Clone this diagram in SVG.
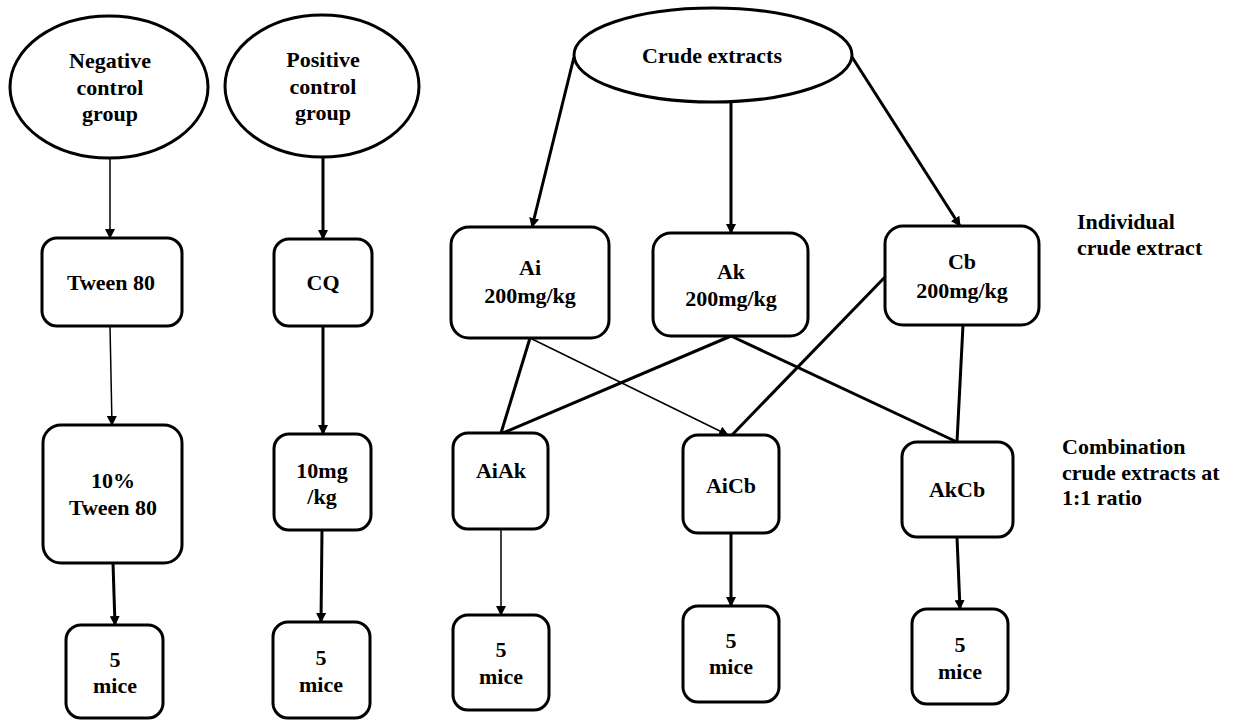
<svg xmlns="http://www.w3.org/2000/svg" width="1233" height="720" viewBox="0 0 1233 720">
<style>
  .shape { fill: #ffffff; stroke: #000000; stroke-width: 3; }
  text { font-family: 'Liberation Serif', 'DejaVu Serif', serif; font-weight: bold; font-size: 22px; fill: #000000; }
  .t { text-anchor: middle; }
  .thick { stroke: #000000; stroke-width: 3; fill: none; }
  .thin { stroke: #000000; stroke-width: 1.5; fill: none; }
  .arr { marker-end: url(#ah); }
</style>
<defs>
  <marker id="ah" viewBox="0 0 10 10" refX="9" refY="5" markerWidth="10" markerHeight="10" markerUnits="userSpaceOnUse" orient="auto">
    <path d="M0,0 L10,5 L0,10 z" fill="#000000"/>
  </marker>
</defs>
<rect width="1233" height="720" fill="#ffffff"/>

<g id="connectors">
  <line class="thin arr" x1="110" y1="158" x2="110" y2="238"/>
  <line class="thick arr" x1="323" y1="157" x2="323" y2="239"/>
  <line class="thin arr" x1="110" y1="326" x2="112" y2="425"/>
  <line class="thick arr" x1="323" y1="326" x2="323" y2="434"/>
  <line class="thick arr" x1="113" y1="563" x2="115" y2="625"/>
  <line class="thick arr" x1="322" y1="530" x2="321" y2="622"/>
  <line class="thick arr" x1="574" y1="57" x2="532" y2="227"/>
  <line class="thick arr" x1="731" y1="102" x2="731" y2="233"/>
  <line class="thick arr" x1="852" y1="57" x2="960" y2="226"/>
  <line class="thick" x1="530" y1="338" x2="501" y2="433"/>
  <line class="thin arr" x1="530" y1="338" x2="728" y2="435"/>
  <line class="thick" x1="731" y1="336" x2="503" y2="433"/>
  <line class="thick" x1="731" y1="336" x2="957" y2="442"/>
  <line class="thick" x1="885" y1="277" x2="732" y2="435"/>
  <line class="thick" x1="963" y1="325" x2="957" y2="442"/>
  <line class="thin arr" x1="501" y1="529" x2="501" y2="615"/>
  <line class="thick arr" x1="731" y1="533" x2="731" y2="606"/>
  <line class="thick arr" x1="957" y1="537" x2="960" y2="609"/>
</g>

<g id="neg-control">
  <ellipse class="shape" cx="109" cy="87" rx="99" ry="71"/>
  <text class="t" x="110" y="68">Negative</text>
  <text class="t" x="110" y="95">control</text>
  <text class="t" x="110" y="121">group</text>
</g>
<g id="pos-control">
  <ellipse class="shape" cx="322" cy="86" rx="97" ry="71"/>
  <text class="t" x="323" y="67">Positive</text>
  <text class="t" x="323" y="94">control</text>
  <text class="t" x="323" y="120">group</text>
</g>
<g id="crude">
  <ellipse class="shape" cx="713" cy="55" rx="139" ry="47"/>
  <text class="t" x="712" y="63">Crude extracts</text>
</g>

<g id="tween80">
  <rect class="shape" x="42" y="238" width="140" height="88" rx="15"/>
  <text class="t" x="111" y="290">Tween 80</text>
</g>
<g id="cq">
  <rect class="shape" x="274" y="239" width="98" height="87" rx="15"/>
  <text class="t" x="323" y="290">CQ</text>
</g>
<g id="tween10">
  <rect class="shape" x="43" y="425" width="139" height="138" rx="18"/>
  <text class="t" x="113" y="488">10%</text>
  <text class="t" x="113" y="515">Tween 80</text>
</g>
<g id="cq10">
  <rect class="shape" x="274" y="434" width="97" height="96" rx="15"/>
  <text class="t" x="322" y="478">10mg</text>
  <text class="t" x="322" y="504">/kg</text>
</g>
<g id="mice-neg">
  <rect class="shape" x="66" y="625" width="97" height="93" rx="15"/>
  <text class="t" x="115" y="667">5</text>
  <text class="t" x="115" y="693">mice</text>
</g>
<g id="mice-pos">
  <rect class="shape" x="273" y="622" width="97" height="96" rx="15"/>
  <text class="t" x="321" y="665">5</text>
  <text class="t" x="321" y="692">mice</text>
</g>

<g id="ai">
  <rect class="shape" x="451" y="227" width="158" height="111" rx="18"/>
  <text class="t" x="530" y="275">Ai</text>
  <text class="t" x="530" y="303">200mg/kg</text>
</g>
<g id="ak">
  <rect class="shape" x="653" y="233" width="155" height="103" rx="18"/>
  <text class="t" x="731" y="279">Ak</text>
  <text class="t" x="731" y="306">200mg/kg</text>
</g>
<g id="cb">
  <rect class="shape" x="885" y="226" width="154" height="99" rx="18"/>
  <text class="t" x="962" y="269">Cb</text>
  <text class="t" x="962" y="298">200mg/kg</text>
</g>

<g id="aiak">
  <rect class="shape" x="453" y="433" width="95" height="96" rx="15"/>
  <text class="t" x="501" y="478">AiAk</text>
</g>
<g id="aicb">
  <rect class="shape" x="683" y="435" width="96" height="98" rx="15"/>
  <text class="t" x="731" y="493">AiCb</text>
</g>
<g id="akcb">
  <rect class="shape" x="902" y="442" width="111" height="95" rx="15"/>
  <text class="t" x="957" y="497">AkCb</text>
</g>

<g id="mice-aiak">
  <rect class="shape" x="453" y="615" width="96" height="95" rx="15"/>
  <text class="t" x="501" y="657">5</text>
  <text class="t" x="501" y="684">mice</text>
</g>
<g id="mice-aicb">
  <rect class="shape" x="683" y="606" width="96" height="96" rx="15"/>
  <text class="t" x="731" y="648">5</text>
  <text class="t" x="731" y="674">mice</text>
</g>
<g id="mice-akcb">
  <rect class="shape" x="912" y="609" width="96" height="95" rx="15"/>
  <text class="t" x="960" y="652">5</text>
  <text class="t" x="960" y="679">mice</text>
</g>

<g id="label-individual">
  <text x="1077" y="229">Individual</text>
  <text x="1077" y="255">crude extract</text>
</g>
<g id="label-combination">
  <text x="1062" y="454">Combination</text>
  <text x="1062" y="480">crude extracts at</text>
  <text x="1062" y="505">1:1 ratio</text>
</g>
</svg>
